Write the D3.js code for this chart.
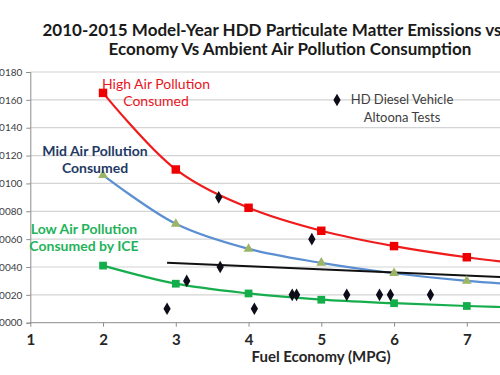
<!DOCTYPE html>
<html>
<head>
<meta charset="utf-8">
<script src="https://cdn.jsdelivr.net/npm/d3@7"></script>
<style>
  body { margin: 0; background: #fff; }
  svg { display: block; font-family: Lato, "Open Sans", sans-serif; }
</style>
</head>
<body>
<svg id="chart" width="500" height="375"></svg>
<script>
// values
var mpg = [2, 3, 4, 5, 6, 7, 8];
var highPM = [0.0165, 0.0110, 0.00825, 0.0066, 0.0055, 0.0047, 0.0041];
var midPM = [0.0106, 0.0071, 0.0053, 0.0043, 0.00355, 0.0030, 0.00265];
var lowPM = [0.0041, 0.0028, 0.0021, 0.00165, 0.0014, 0.0012, 0.00105];
var dieselMPG = [2.88, 3.15, 3.59, 3.61, 4.08, 4.60, 4.66, 4.87, 5.35, 5.80, 5.95, 6.50];
var dieselPM = [0.0010, 0.0030, 0.0090, 0.0040, 0.0010, 0.0020, 0.0020, 0.0060, 0.0020, 0.0020, 0.0020, 0.0020];
var trendMPG = [2.88, 7.6];
var trendPM = [0.0043, 0.00325];
var xTicks = [1, 2, 3, 4, 5, 6, 7];
var yTicks = [0, 0.002, 0.004, 0.006, 0.008, 0.010, 0.012, 0.014, 0.016, 0.018];

var svg = d3.select("#chart");
var plotLeft = 30.3, plotTop = 72, plotBottom = 322.7;

var x = d3.scaleLinear().domain([1, 8]).range([plotLeft, plotLeft + 7 * 72.75]);
var y = d3.scaleLinear().domain([0, 0.018]).range([plotBottom, plotTop]);

// gridlines
svg.append("g").selectAll("line")
  .data(yTicks.slice(1))
  .join("line")
    .attr("x1", plotLeft).attr("x2", 500)
    .attr("y1", function(d) { return y(d); })
    .attr("y2", function(d) { return y(d); })
    .attr("stroke", "#d4d4d4").attr("stroke-width", 1.2);

// y axis
var yAxis = svg.append("g")
  .attr("transform", "translate(" + plotLeft + ",0)")
  .call(d3.axisLeft(y).tickValues(yTicks).tickSize(4).tickPadding(4)
        .tickFormat(d3.format(".4f")));
yAxis.selectAll("path, line").attr("stroke", "#8c8c8c");
yAxis.selectAll("text").style("font-size", "10px").style("fill", "#404040")
  .style("font-family", "Lato, sans-serif");

// x axis
var xAxis = svg.append("g")
  .attr("transform", "translate(0," + plotBottom + ")")
  .call(d3.axisBottom(x).tickValues(xTicks).tickSize(4).tickPadding(8)
        .tickFormat(d3.format("d")));
xAxis.select(".domain").attr("d", "M" + plotLeft + ",0H500");
xAxis.selectAll("path, line").attr("stroke", "#8c8c8c");
xAxis.selectAll("text").style("font-size", "15px").style("font-weight", "bold")
  .style("fill", "#262626").style("font-family", "Lato, sans-serif");

svg.append("text")
  .attr("x", 321).attr("y", 362)
  .attr("text-anchor", "middle")
  .style("font-size", "15px").style("font-weight", "bold").style("fill", "#262626")
  .text("Fuel Economy (MPG)");

// smoothed series
var line = d3.line()
  .x(function(d) { return x(d[0]); })
  .y(function(d) { return y(d[1]); })
  .curve(d3.curveCatmullRom.alpha(0.5));

function drawSeries(vals, color) {
  svg.append("path")
    .datum(d3.zip(mpg, vals))
    .attr("d", line)
    .attr("fill", "none")
    .attr("stroke", color)
    .attr("stroke-width", 2.2);
}
drawSeries(highPM, "#ee1c1c");
drawSeries(midPM, "#5b8fd2");
drawSeries(lowPM, "#16ad4c");

// trend line
svg.append("path")
  .datum(d3.zip(trendMPG, trendPM))
  .attr("d", d3.line().x(function(d) { return x(d[0]); }).y(function(d) { return y(d[1]); }))
  .attr("stroke", "#111").attr("stroke-width", 2).attr("fill", "none");

// markers
function drawMarkers(vals, type, size, color) {
  svg.append("g").selectAll("path")
    .data(d3.zip(mpg, vals))
    .join("path")
      .attr("transform", function(d) { return "translate(" + x(d[0]) + "," + y(d[1]) + ")"; })
      .attr("d", d3.symbol().type(type).size(size))
      .attr("fill", color);
}
drawMarkers(highPM, d3.symbolSquare, 72, "#ee0000");
drawMarkers(midPM, d3.symbolTriangle, 42, "#9bb465");
drawMarkers(lowPM, d3.symbolSquare, 60, "#13ad4a");

var diamond = d3.symbol().type(d3.symbolDiamond).size(46);
svg.append("g").selectAll("path")
  .data(d3.zip(dieselMPG, dieselPM))
  .join("path")
    .attr("transform", function(d) { return "translate(" + x(d[0]) + "," + y(d[1]) + ")"; })
    .attr("d", diamond)
    .attr("fill", "#0d0d1a");

// title
var title = svg.append("text")
  .attr("text-anchor", "middle")
  .style("font-size", "17px").style("font-weight", "bold").style("fill", "#1a1a1a");
title.append("tspan").attr("x", 290).attr("y", 36)
  .text("2010-2015 Model-Year HDD Particulate Matter Emissions vs Fuel");
title.append("tspan").attr("x", 290).attr("y", 55)
  .text("Economy Vs Ambient Air Pollution Consumption");

// legend
svg.append("path")
  .attr("transform", "translate(337,100)")
  .attr("d", diamond).attr("fill", "#0d0d1a");
var leg = svg.append("text").attr("text-anchor", "middle")
  .style("font-size", "13px").style("fill", "#404040");
leg.append("tspan").attr("x", 402).attr("y", 104).text("HD Diesel Vehicle");
leg.append("tspan").attr("x", 402).attr("y", 122).text("Altoona Tests");

// annotations
function note(lines, cx, y0, color, weight) {
  var t = svg.append("text").attr("text-anchor", "middle")
    .style("font-size", "14px").style("font-weight", weight).style("fill", color);
  lines.forEach(function(s, i) {
    t.append("tspan").attr("x", cx).attr("y", y0 + i * 17).text(s);
  });
}
note(["High Air Pollution", "Consumed"], 156, 89, "#e8141c", "normal");
note(["Mid Air Pollution", "Consumed"], 95, 156, "#1f3a66", "bold");
note(["Low Air Pollution", "Consumed by ICE"], 84, 234, "#1fb35a", "bold");
</script>
</body>
</html>
